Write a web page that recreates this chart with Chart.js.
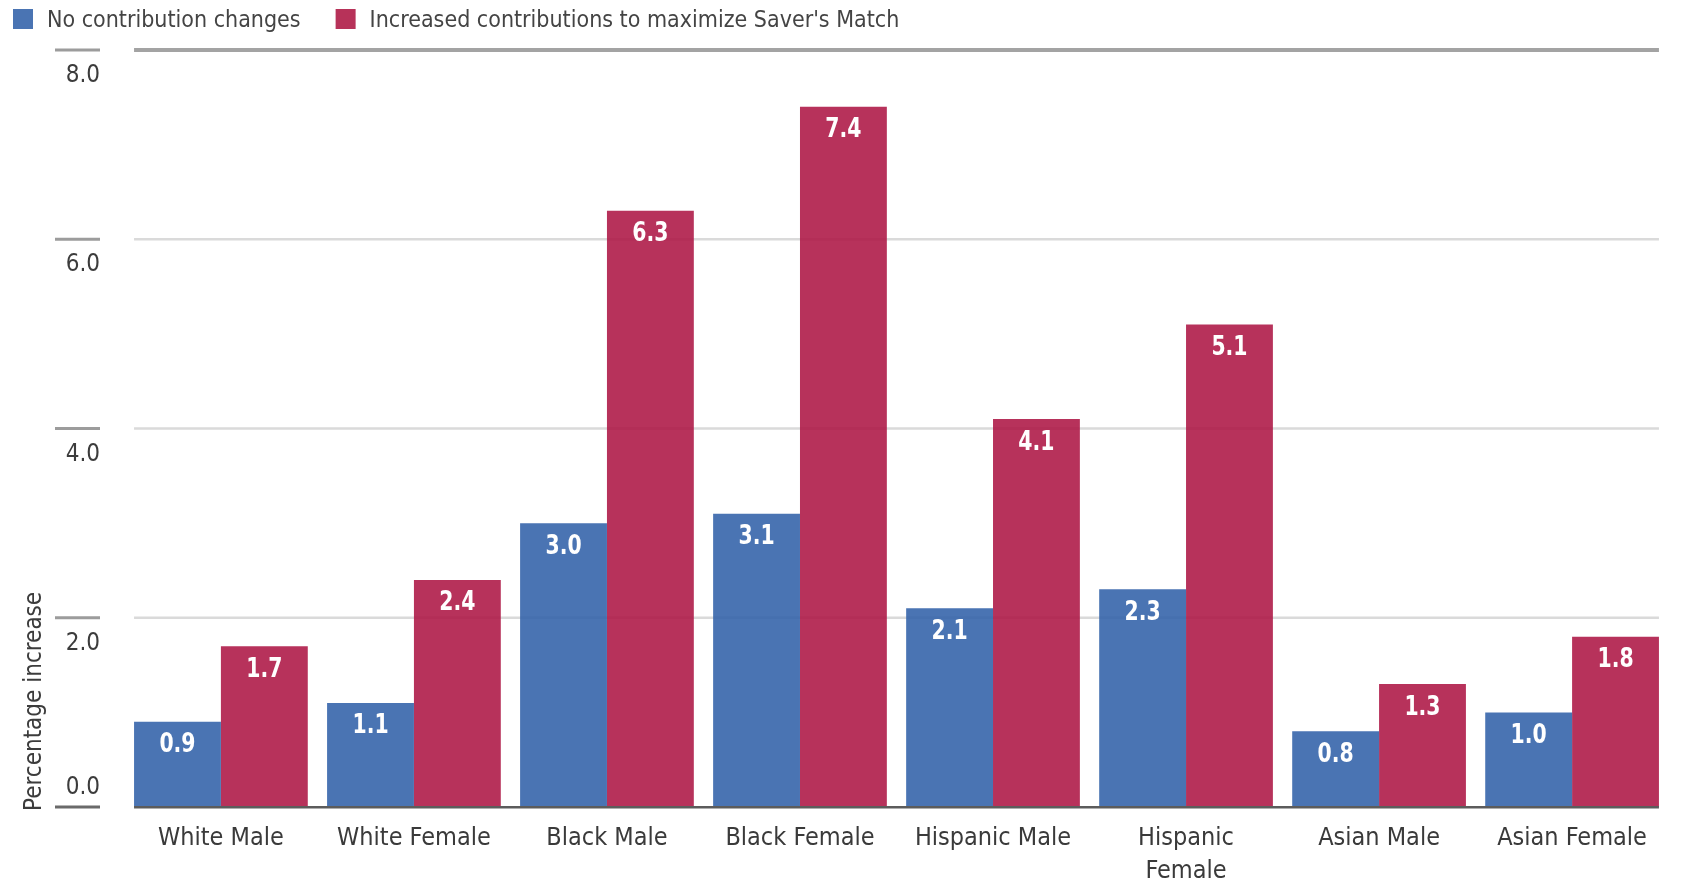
<!DOCTYPE html>
<html>
<head>
<meta charset="utf-8">
<script src="https://cdn.jsdelivr.net/npm/chart.js@4.4.1/dist/chart.umd.min.js"></script>
<style>
  html, body { margin: 0; padding: 0; background: #ffffff; }
  #wrap { width: 1682px; height: 889px; position: relative; }
</style>
</head>
<body>
<div id="wrap"><canvas id="chart"></canvas></div>
<script>
// Groups on the x axis (an array entry is drawn as a two-line label)
const categories = ['White Male', 'White Female', 'Black Male', 'Black Female',
  'Hispanic Male', ['Hispanic', 'Female'], 'Asian Male', 'Asian Female'];
// Percentage increase per group
const noChange  = [0.9, 1.1, 3.0, 3.1, 2.1, 2.3, 0.8, 1.0];
const increased = [1.7, 2.4, 6.3, 7.4, 4.1, 5.1, 1.3, 1.8];
const seriesNames = ['No contribution changes', "Increased contributions to maximize Saver's Match"];
const yTicks = [0, 2, 4, 6, 8];
const yTitle = 'Percentage increase';

const FONT = "'DejaVu Sans Condensed', 'Liberation Sans Narrow', sans-serif";
const BLUE = '#4a74b3';
const RED = '#b73259';
const BLUE_FILL = 'rgba(49, 97, 169, 0.88)';
const RED_FILL = 'rgba(173, 22, 68, 0.88)';

// Extent of the bars, used for grid and baseline
function barSpan(chart) {
  const m0 = chart.getDatasetMeta(0), m1 = chart.getDatasetMeta(chart.data.datasets.length - 1);
  const first = m0.data[0], last = m1.data[m1.data.length - 1];
  return [first.x - first.width / 2, last.x + last.width / 2];
}

const axisDecor = {
  id: 'axisDecor',
  beforeDatasetsDraw(chart) {
    const { ctx, scales: { y } } = chart;
    const [gx0, gx1] = barSpan(chart);
    ctx.save();
    yTicks.forEach(v => {
      const py = y.getPixelForValue(v);
      const isZero = v === 0, isTop = v === y.max;
      // short tick bar left of the labels
      ctx.fillStyle = isZero ? '#6a6a6a' : '#9c9c9c';
      ctx.fillRect(55, py - 1.5, 45, 3);
      // horizontal grid line
      if (!isZero) {
        const h = isTop ? 4 : 2.5;
        ctx.fillStyle = isTop ? '#a3a3a3' : '#dadada';
        ctx.fillRect(gx0, py - h / 2, gx1 - gx0, h);
      }
      // tick value
      ctx.fillStyle = '#3c3c3c';
      ctx.font = '24px ' + FONT;
      ctx.textAlign = 'right';
      ctx.textBaseline = 'middle';
      ctx.fillText(v.toFixed(1), 100, isZero ? py - 19 : py + 26);
    });
    // vertical axis title
    ctx.translate(35, y.bottom + 4);
    ctx.rotate(-Math.PI / 2);
    ctx.fillStyle = '#3c3c3c';
    ctx.font = '24px ' + FONT;
    ctx.textAlign = 'left';
    ctx.textBaseline = 'middle';
    ctx.fillText(yTitle, 0, 0);
    ctx.restore();
  },
  afterDatasetsDraw(chart) {
    const { ctx, scales: { y } } = chart;
    const [gx0, gx1] = barSpan(chart);
    ctx.save();
    // baseline
    ctx.fillStyle = '#5c5c5c';
    ctx.fillRect(gx0, y.getPixelForValue(0) - 1, gx1 - gx0, 2.5);
    // value labels inside the bar tops, narrowed horizontally
    ctx.fillStyle = '#ffffff';
    ctx.font = 'bold 27px ' + FONT;
    ctx.textAlign = 'center';
    ctx.textBaseline = 'middle';
    chart.data.datasets.forEach((ds, di) => {
      chart.getDatasetMeta(di).data.forEach((bar, i) => {
        ctx.save();
        ctx.translate(bar.x, bar.y + 23.5);
        ctx.scale(0.84, 1);
        ctx.fillText(ds.data[i].toFixed(1), 0, 0);
        ctx.restore();
      });
    });
    ctx.restore();
  },
  afterDraw(chart) {
    // legend row
    const { ctx } = chart;
    ctx.save();
    ctx.font = '23px ' + FONT;
    ctx.textBaseline = 'middle';
    ctx.textAlign = 'left';
    let x = 13;
    [BLUE, RED].forEach((col, i) => {
      ctx.fillStyle = col;
      ctx.fillRect(x, 9, 20, 20);
      ctx.fillStyle = '#444444';
      ctx.fillText(seriesNames[i], x + 34, 21);
      x += 34 + ctx.measureText(seriesNames[i]).width + 35;
    });
    ctx.restore();
  }
};

new Chart(document.getElementById('chart'), {
  type: 'bar',
  data: {
    labels: categories,
    datasets: [
      { label: seriesNames[0], data: noChange, backgroundColor: BLUE_FILL, borderWidth: 0 },
      { label: seriesNames[1], data: increased, backgroundColor: RED_FILL, borderWidth: 0 }
    ]
  },
  options: {
    responsive: true,
    maintainAspectRatio: false,
    animation: false,
    devicePixelRatio: 1,
    layout: { padding: { top: 50, right: 13.4, bottom: 0, left: 0 } },
    datasets: { bar: { barPercentage: 1.0, categoryPercentage: 0.9 } },
    plugins: { legend: { display: false }, tooltip: { enabled: false } },
    scales: {
      x: {
        grid: { display: false },
        border: { display: false },
        ticks: {
          font: { family: FONT, size: 25, lineHeight: 1.32 },
          color: '#3a3a3a',
          padding: 7,
          maxRotation: 0,
          autoSkip: false
        },
        afterFit(scale) { scale.height = 82; }
      },
      y: {
        min: 0,
        max: 8,
        grid: { display: false },
        border: { display: false },
        ticks: { display: false, stepSize: 2 },
        afterFit(scale) { scale.width = 124.4; }
      }
    }
  },
  plugins: [axisDecor]
});
</script>
</body>
</html>
